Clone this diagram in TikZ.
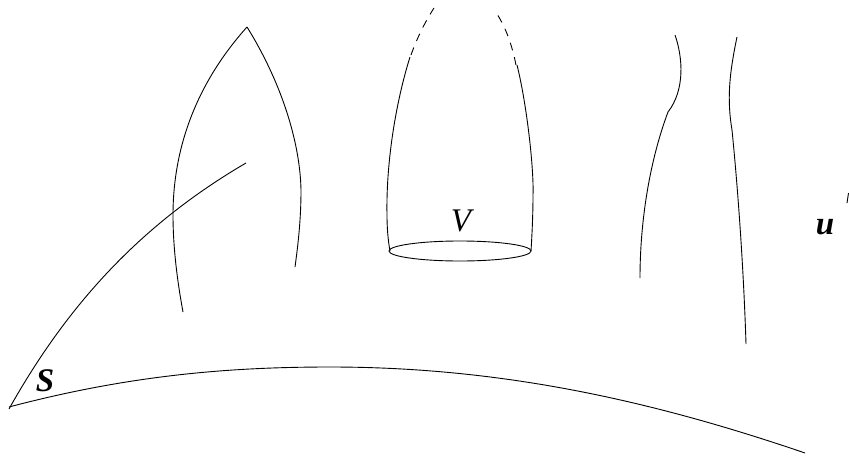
\documentclass[tikz,border=0pt]{standalone}
\usepackage{fontspec}
\usetikzlibrary{shapes.geometric}
\setmainfont{Liberation Serif}
\tikzset{curve/.style={draw=black,line width=0.9pt},
 lab/.style={font=\fontsize{33}{33}\selectfont\itshape,inner sep=0pt},
 blab/.style={font=\fontsize{33}{33}\selectfont\bfseries\itshape,inner sep=0pt}}
\begin{document}
\begin{tikzpicture}[x=1pt,y=-1pt]
\useasboundingbox (0,0) rectangle (849,458);
% leaf
\draw[curve] (247,27) .. controls (195,85) and (173,150) .. (173,215) .. controls (173,250) and (178,285) .. (183,312);
\draw[curve] (247,27) .. controls (280,80) and (300,140) .. (301,190) .. controls (301,220) and (298,245) .. (295,267);
\draw[curve] (246,163) .. controls (145,222) and (70,300) .. (9,409);
\draw[curve] (9,407) .. controls (130,375) and (230,367) .. (330,367) .. controls (500,367) and (650,400) .. (805,453);
% cup
\draw[curve] (410,57) .. controls (395,105) and (386,165) .. (387,215) .. controls (387,228) and (388,240) .. (390,251);
\draw[curve] (517,65) .. controls (527,105) and (534,170) .. (533,195) .. controls (533,215) and (532,235) .. (531,251);
\draw[curve,dash pattern=on 8pt off 7pt] (411,55) .. controls (417,38) and (425,22) .. (434,8);
\draw[curve,dash pattern=on 8pt off 7pt] (516,65) .. controls (512,45) and (506,28) .. (497,14);
\node[draw=black,line width=0.9pt,ellipse,minimum width=142pt,minimum height=20pt,inner sep=0pt] (rim) at (460,251) {};
% right curves
\draw[curve] (675,35) .. controls (683,58) and (685,90) .. (668,112);
\draw[curve] (668,112) .. controls (650,160) and (640,220) .. (640,278);
\draw[curve] (737,37) .. controls (729,75) and (727,100) .. (732,130);
\draw[curve] (732,130) .. controls (739,200) and (744,280) .. (746,344);
\draw[curve] (848.5,193) -- (847,203);
\node[lab] (V) at (461,221) {V};
\node[blab] (S) at (45,381) {S};
\node[blab] (u) at (825,227) {u};
\end{tikzpicture}
\end{document}
